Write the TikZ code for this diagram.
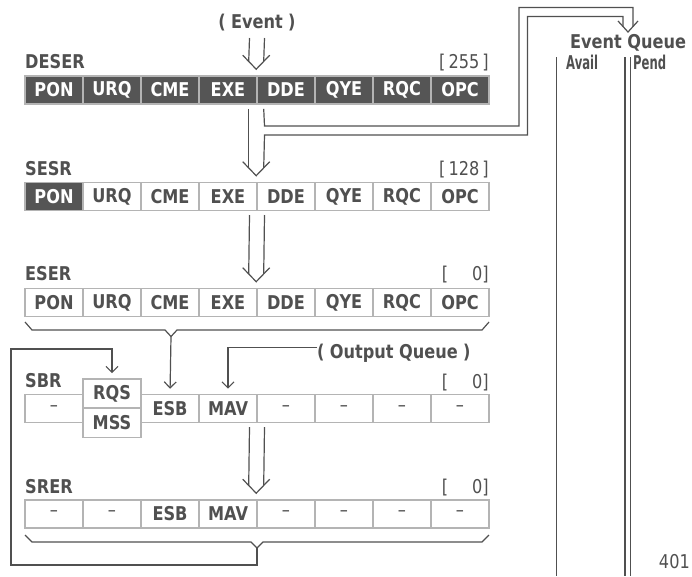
\documentclass[tikz,border=0pt]{standalone}
\usepackage{fontspec}
\usepackage{graphicx}
\setmainfont{DejaVu Sans}[FakeStretch=0.85]
\usetikzlibrary{arrows.meta}
\definecolor{inkgray}{HTML}{505050}
\definecolor{cellfill}{HTML}{555555}
\definecolor{cellline}{HTML}{B4B4B4}

% empty bit
\newcommand{\nobit}{{\mdseries --}}
% narrow text for the queue columns
\newcommand{\narrow}[1]{\scalebox{0.72}[1]{#1}}

% double (hollow) arrow: #1 start point, #2 cell below
\newcommand{\dblarrow}[2]{%
  \draw[wire] ([xshift=-7.5pt]#1) -- ([xshift=-7.5pt,yshift=13.8pt]#2.north west);
  \draw[wire] ([xshift=7.5pt]#1) -- ([xshift=7.5pt,yshift=13.8pt]#2.north west);
  \draw[wire] ([xshift=-13.5pt,yshift=20pt]#2.north west) -- ([yshift=6pt]#2.north west)
    -- ([xshift=13.5pt,yshift=20pt]#2.north west);}

\begin{document}
\begin{tikzpicture}[x=1pt,y=-1pt]
  % Node styles
  \tikzset{
    reg cell/.style={draw=cellline, line width=1.6pt, fill=white, text=inkgray,
      minimum width=58pt, minimum height=28pt, inner sep=0pt,
      font=\fontsize{19}{19}\selectfont\bfseries},
    set cell/.style={reg cell, fill=cellfill, text=white},
    reg name/.style={anchor=base west, inner sep=0pt, text=inkgray,
      font=\fontsize{19}{19}\selectfont\bfseries},
    reg value/.style={anchor=base east, inner sep=0pt, text=inkgray,
      font=\fontsize{19}{19}\selectfont},
    wire/.style={draw=inkgray, line width=1.2pt},
    flow/.style={wire, -{Straight Barb[length=6pt,width=12pt]}, shorten >=5pt},
  }
  \useasboundingbox (0,0) rectangle (692,576);

  % --- DESER: all bits set ---
  \node[reg name] (deser) at (25,68) {DESER};
  \node[reg value] (deserval) at (489,68) {[\,255\,]};
  \foreach \lbl [count=\i] in {PON,URQ,CME,EXE,DDE,QYE,RQC,OPC}
    \node[set cell] (deser\i) at ({54+58*(\i-1)},90) {\lbl};

  % --- SESR: only PON set ---
  \node[reg name] (sesr) at (25,175) {SESR};
  \node[reg value] (sesrval) at (489,175) {[\,128\,]};
  \node[set cell] (sesr1) at (54,196.5) {PON};
  \foreach \lbl [count=\i from 2] in {URQ,CME,EXE,DDE,QYE,RQC,OPC}
    \node[reg cell] (sesr\i) at ({54+58*(\i-1)},196.5) {\lbl};

  % --- ESER ---
  \node[reg name] (eser) at (25,280) {ESER};
  \node[reg value] (eserval) at (489,280) {[\quad\ 0]};
  \foreach \lbl [count=\i] in {PON,URQ,CME,EXE,DDE,QYE,RQC,OPC}
    \node[reg cell] (eser\i) at ({54+58*(\i-1)},302.5) {\lbl};

  % --- SBR: RQS/MSS shares bit 6 ---
  \node[reg name] (sbr) at (25,387) {SBR};
  \node[reg value] (sbrval) at (489,388) {[\quad\ 0]};
  \foreach \i/\lbl in {1/\nobit,3/ESB,4/MAV,5/\nobit,6/\nobit,7/\nobit,8/\nobit}
    \node[reg cell] (sbr\i) at ({54+58*(\i-1)},408.5) {\lbl};
  \node[reg cell, minimum height=29pt] (rqs) at (112,393.5) {RQS};
  \node[reg cell, minimum height=29pt] (mss) at (112,423) {MSS};

  % --- SRER ---
  \node[reg name] (srer) at (25,493) {SRER};
  \node[reg value] (srerval) at (489,493) {[\quad\ 0]};
  \foreach \i/\lbl in {1/\nobit,2/\nobit,3/ESB,4/MAV,5/\nobit,6/\nobit,7/\nobit,8/\nobit}
    \node[reg cell] (srer\i) at ({54+58*(\i-1)},514) {\lbl};

  % --- Event in, down through the enable registers ---
  \node[reg name, anchor=base] (event) at (257,28) {(\;Event\;)};
  \dblarrow{257,38}{deser5}
  \draw[wire] ([xshift=-7.5pt,yshift=-4pt]deser5.south west)
    -- ([xshift=-7.5pt,yshift=13.8pt]sesr5.north west);
  \draw[wire] ([xshift=-13.5pt,yshift=20pt]sesr5.north west) -- ([yshift=6pt]sesr5.north west)
    -- ([xshift=13.5pt,yshift=20pt]sesr5.north west);
  \dblarrow{257,215}{eser5}

  % --- Branch to the event queue ---
  \coordinate (qtip) at (628,32);
  \draw[wire] ([xshift=7.5pt,yshift=-4pt]deser5.south west) -- (264.5,126) -- (519,126)
    -- (519,7.5) -- (633,7.5) -- (633,26.5);
  \draw[wire] ([xshift=7.5pt,yshift=13.8pt]sesr5.north west) -- (264.5,135) -- (527.5,135)
    -- (527.5,16.5) -- (623,16.5) -- (623,26.5);
  \draw[wire] (618,21) -- (qtip) -- (638,21);

  % --- Event queue ---
  \node[reg name, anchor=base] (evq) at (628,48) {Event Queue};
  \node[reg name] (avail) at (566,69) {\narrow{Avail}};
  \node[reg name] (pend) at (633,69) {\narrow{Pend}};
  \draw[wire] (556.5,57) -- (556.5,576);
  \draw[wire] (625,57) -- (625,576);
  \draw[wire] (630.5,57) -- (630.5,576);
  \node[reg value] (count) at (690,568) {401};

  % --- ESER summary into ESB ---
  \draw[wire] (25,322) -- (32,330) -- (165,330) -- (171,336.5) coordinate (eserbr)
    -- (177,330) -- (482,330) -- (489,322);
  \draw[flow] (eserbr) -- (sbr3.north);

  % --- Output queue into MAV ---
  \node[reg name] (outq) at (317,358) {(\;Output Queue\;)};
  \draw[flow] ([yshift=5pt]outq.west) -| (sbr4.north);
  \dblarrow{257,427}{srer5}

  % --- SRER summary back to RQS ---
  \draw[wire] (25,535) -- (32,542) -- (251,542) -- (257,548) coordinate (srerbr)
    -- (263,542) -- (482,542) -- (489,535);
  \draw[flow] (srerbr) -- (257,565) -| (11,349) -| (rqs.north);
\end{tikzpicture}
\end{document}
